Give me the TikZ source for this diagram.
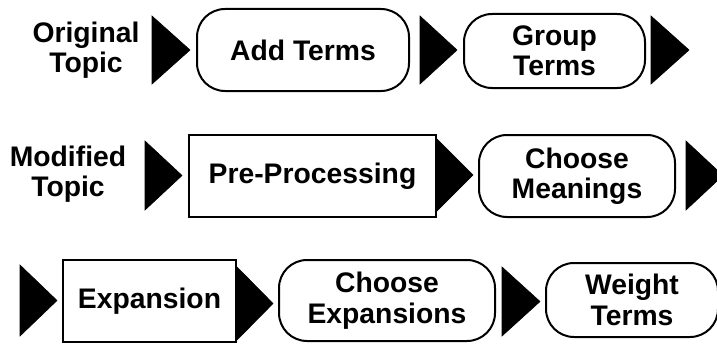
\documentclass[tikz,border=0pt]{standalone}
\usepackage{fontspec}
\setmainfont{Liberation Sans}
\begin{document}
\begin{tikzpicture}[x=1pt,y=-1pt,
  lbl/.style={font=\bfseries\fontsize{28.3}{30.5}\selectfont, align=center, inner sep=0pt},
  sqbox/.style={lbl, draw=black, line width=2pt},
  roundbox/.style={sqbox, rounded corners=28pt},
  flowtip/.style={fill=black, draw=black, line width=0.6pt, line join=miter}]
\useasboundingbox (0,0) rectangle (717,345);

% row 1
\node[lbl] (orig) at (86,50) {Original\\Topic};
\fill[flowtip] (152,16) -- (152,84) -- (190,50) -- cycle;
\node[roundbox, minimum width=212pt, minimum height=82pt] (addterms) at (303,50) {Add Terms};
\fill[flowtip] (420,16) -- (420,84) -- (457,50) -- cycle;
\node[roundbox, minimum width=181pt, minimum height=74pt] (groupterms) at (554.5,51) {Group\\Terms};
\fill[flowtip] (651,16) -- (651,84) -- (689,50) -- cycle;

% row 2
\node[lbl] (modified) at (68,174) {Modified\\Topic};
\fill[flowtip] (145,141) -- (145,210) -- (182,175.5) -- cycle;
\node[sqbox, minimum width=247pt, minimum height=82pt] (preproc) at (312.5,176) {Pre-Processing};
\fill[flowtip] (437,139) -- (437,211) -- (473,175) -- cycle;
\node[roundbox, minimum width=196pt, minimum height=82pt] (meanings) at (577,176) {Choose\\Meanings};
\fill[flowtip] (686,141) -- (686,210) -- (723,175.5) -- cycle;

% row 3
\fill[flowtip] (20,265) -- (20,336) -- (57,300.5) -- cycle;
\node[sqbox, minimum width=173pt, minimum height=82pt] (expansion) at (149.5,301) {Expansion};
\fill[flowtip] (237,267) -- (237,340) -- (273,303.5) -- cycle;
\node[roundbox, minimum width=216pt, minimum height=81pt] (chooseexp) at (387,300.5) {Choose\\Expansions};
\fill[flowtip] (502,267) -- (502,336) -- (540,301.5) -- cycle;
\node[roundbox, minimum width=172pt, minimum height=74pt] (weight) at (632,300) {Weight\\Terms};
\end{tikzpicture}
\end{document}
